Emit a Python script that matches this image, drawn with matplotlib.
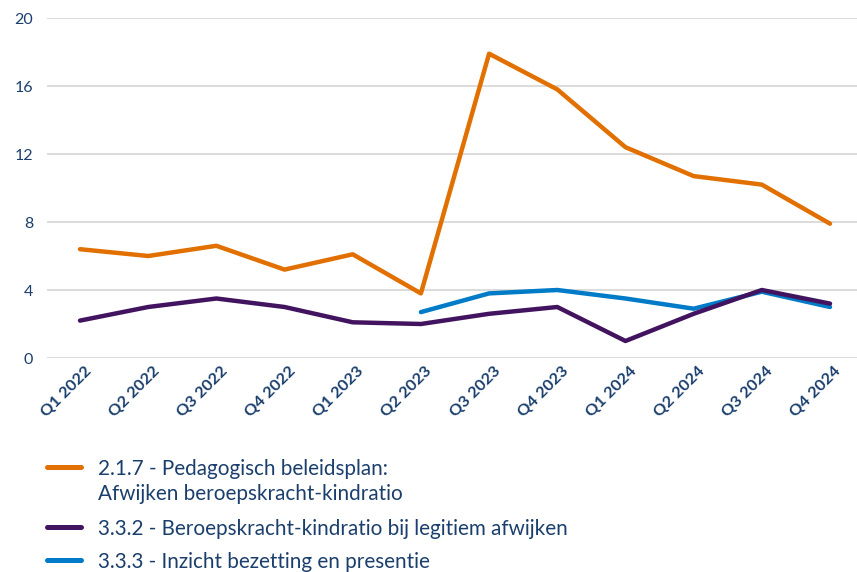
import matplotlib
matplotlib.use("Agg")
import matplotlib.pyplot as plt
from matplotlib.lines import Line2D
import matplotlib.transforms as mtransforms

categories = ["Q1 2022", "Q2 2022", "Q3 2022", "Q4 2022", "Q1 2023", "Q2 2023",
              "Q3 2023", "Q4 2023", "Q1 2024", "Q2 2024", "Q3 2024", "Q4 2024"]
orange_vals = [6.4, 6.0, 6.6, 5.2, 6.1, 3.8, 17.9, 15.8, 12.4, 10.7, 10.2, 7.9]
purple_vals = [2.2, 3.0, 3.5, 3.0, 2.1, 2.0, 2.6, 3.0, 1.0, 2.6, 4.0, 3.2]
blue_vals = [None, None, None, None, None, 2.7, 3.8, 4.0, 3.5, 2.9, 3.9, 3.0]
labels = ["2.1.7 - Pedagogisch beleidsplan:\nAfwijken beroepskracht-kindratio",
          "3.3.2 - Beroepskracht-kindratio bij legitiem afwijken",
          "3.3.3 - Inzicht bezetting en presentie"]
colors = ["#e17000", "#42145f", "#007bc7"]
yticks = [0, 4, 8, 12, 16, 20]

plt.rcParams['font.family'] = ['Lato', 'DejaVu Sans']
txt = "#1b3f6d"

W, H = 857, 572
fig = plt.figure(figsize=(W / 100, H / 100), dpi=100)
ax = fig.add_axes([47 / W, 1 - 358 / H, (857 - 47) / W, (358 - 18) / H])

x = list(range(len(categories)))
bx = [i for i, v in zip(x, blue_vals) if v is not None]
bv = [v for v in blue_vals if v is not None]
ax.plot(x, orange_vals, color=colors[0], lw=3.2, solid_capstyle='round', zorder=3)
ax.plot(bx, bv, color=colors[2], lw=3.2, solid_capstyle='round', zorder=3)
ax.plot(x, purple_vals, color=colors[1], lw=3.2, solid_capstyle='round', zorder=4)

ax.set_ylim(0, 20)
ax.set_xlim(-33 / 68.2, 11 + 27 / 68.2)
ax.set_yticks(yticks)
ax.set_yticklabels([str(t) for t in yticks], color=txt, fontsize=11.5)
ax.grid(axis='y', color='#d9d9d9', lw=1.3, zorder=0)
ax.tick_params(axis='y', length=0, pad=10)
ax.set_xticks(x)
ax.set_xticklabels(categories, rotation=45, ha='right', va='center',
                   rotation_mode='anchor', color=txt, fontsize=11.8, fontweight='bold')
ax.tick_params(axis='x', length=0, pad=8)
offset = mtransforms.ScaledTranslation(9 / 100, 0, fig.dpi_scale_trans)
for lab in ax.get_xticklabels():
    lab.set_transform(lab.get_transform() + offset)
for s in ax.spines.values():
    s.set_visible(False)

# legend
rows_y = [467, 527, 560]
for c, lab, yy in zip(colors, labels, rows_y):
    yf = 1 - yy / H
    fig.add_artist(Line2D([47 / W, 81 / W], [yf, yf], color=c, lw=3.6,
                          solid_capstyle='round', transform=fig.transFigure))
    lines = lab.split("\n")
    for k, ln in enumerate(lines):
        fig.text(98 / W, 1 - (yy + 25 * k) / H, ln, color=txt, fontsize=14.9,
                 va='center_baseline', ha='left')

fig.savefig("out.png", dpi=100, facecolor='white')
